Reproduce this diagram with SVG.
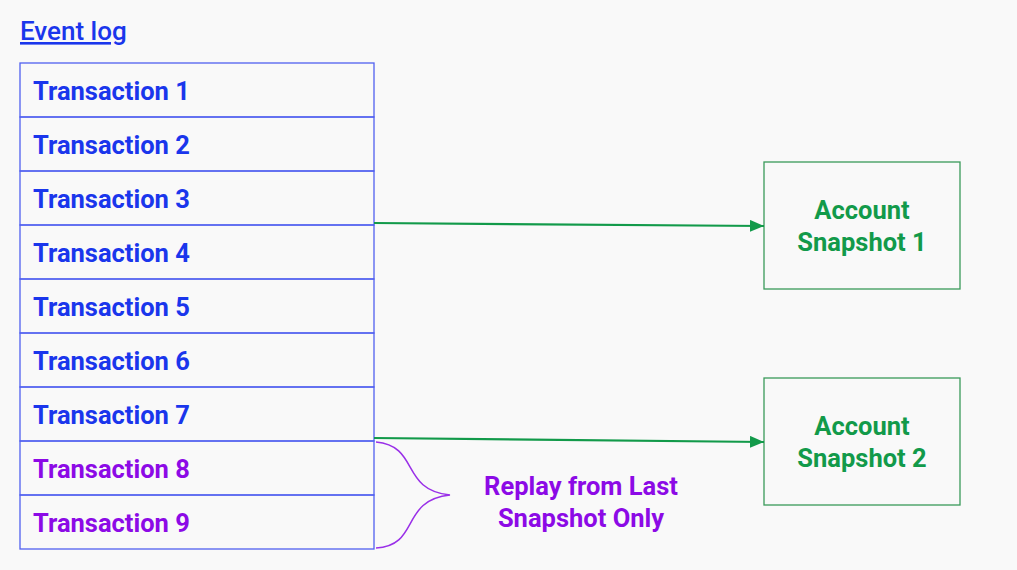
<svg xmlns="http://www.w3.org/2000/svg" width="1017" height="570" viewBox="0 0 1017 570">
<defs>
<style>
.t{font-family:Roboto,"Liberation Sans",sans-serif;font-weight:700;font-size:25.5px}
.b{fill:#1a36ec}
.p{fill:#8c0ae6}
.g{fill:#129a4a}
.row{fill:none;stroke:#5060f0;stroke-width:1.3}
.snap{fill:none;stroke:#3a9a5a;stroke-width:1.3}
.conn{stroke:#129a4a;stroke-width:2.2;fill:none}
</style>
<marker id="ah" markerWidth="14" markerHeight="12" refX="14" refY="6" orient="auto" markerUnits="userSpaceOnUse" viewBox="0 0 14 12">
<path d="M0,0 L14,6 L0,12 z" fill="#129a4a"/>
</marker>
</defs>
<rect width="1017" height="570" fill="#f9f9f9"/>
<g id="title"><text class="t b" x="20" y="40" text-decoration="underline" style="font-weight:500;font-size:26px">Event log</text></g>
<g id="eventlog">
<g id="tx1"><rect class="row" x="20" y="63" width="354" height="54"/><text class="t b" x="33" y="100">Transaction 1</text></g>
<g id="tx2"><rect class="row" x="20" y="117" width="354" height="54"/><text class="t b" x="33" y="154">Transaction 2</text></g>
<g id="tx3"><rect class="row" x="20" y="171" width="354" height="54"/><text class="t b" x="33" y="208">Transaction 3</text></g>
<g id="tx4"><rect class="row" x="20" y="225" width="354" height="54"/><text class="t b" x="33" y="262">Transaction 4</text></g>
<g id="tx5"><rect class="row" x="20" y="279" width="354" height="54"/><text class="t b" x="33" y="316">Transaction 5</text></g>
<g id="tx6"><rect class="row" x="20" y="333" width="354" height="54"/><text class="t b" x="33" y="370">Transaction 6</text></g>
<g id="tx7"><rect class="row" x="20" y="387" width="354" height="54"/><text class="t b" x="33" y="424">Transaction 7</text></g>
<g id="tx8"><rect class="row" x="20" y="441" width="354" height="54"/><text class="t p" x="33" y="478">Transaction 8</text></g>
<g id="tx9"><rect class="row" x="20" y="495" width="354" height="54"/><text class="t p" x="33" y="532">Transaction 9</text></g>
</g>
<g id="snapshot1"><rect class="snap" x="764" y="162" width="196" height="127"/><text class="t g" text-anchor="middle"><tspan x="862" y="219">Account</tspan><tspan x="862" y="251">Snapshot 1</tspan></text></g>
<g id="snapshot2"><rect class="snap" x="764" y="378" width="196" height="127"/><text class="t g" text-anchor="middle"><tspan x="862" y="435">Account</tspan><tspan x="862" y="467">Snapshot 2</tspan></text></g>
<g id="replay"><text class="t p" text-anchor="middle"><tspan x="581" y="495">Replay from Last</tspan><tspan x="581" y="527">Snapshot Only</tspan></text></g>
<g id="connectors">
<path class="conn" d="M374,223 L764,226" marker-end="url(#ah)"/>
<path class="conn" d="M374,438 L764,442" marker-end="url(#ah)"/>
<path d="M376,442 C420,446 400,490 450,495 C400,500 420,546 376,548" fill="none" stroke="#9a30e8" stroke-width="1.5"/>
</g>
</svg>
